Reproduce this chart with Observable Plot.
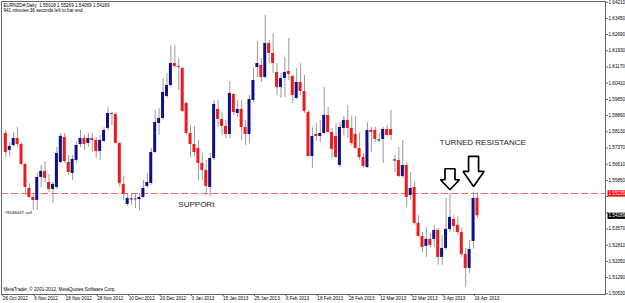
<!DOCTYPE html>
<html><head><meta charset="utf-8">
<script src="https://cdn.jsdelivr.net/npm/d3@7"></script>
<script src="https://cdn.jsdelivr.net/npm/@observablehq/plot@0.6"></script>
<style>html,body{margin:0;padding:0;background:#fff}svg{display:block}</style>
</head><body><div id="chart"></div>
<script>
// ---- data (EURNZD daily) ----
const opens = [1.58052,1.57255,1.57490,1.57818,1.57536,1.56598,1.55473,1.55051,1.54910,1.55989,1.56270,1.55754,1.55426,1.55520,1.56692,1.57865,1.56692,1.56176,1.56786,1.57536,1.57818,1.57583,1.57818,1.57724,1.57208,1.57677,1.58287,1.58990,1.58943,1.57583,1.55660,1.54722,1.54934,1.54957,1.54957,1.55051,1.55567,1.55707,1.57161,1.58521,1.58756,1.59788,1.60304,1.61335,1.61195,1.61101,1.59459,1.58052,1.57536,1.57349,1.56645,1.56317,1.55520,1.56880,1.59178,1.58709,1.58381,1.58005,1.59881,1.58990,1.59178,1.58334,1.58005,1.59600,1.61148,1.61242,1.60679,1.62273,1.61804,1.60913,1.60210,1.60632,1.60960,1.60726,1.59694,1.60444,1.60022,1.59037,1.56974,1.58005,1.57912,1.58052,1.58897,1.58099,1.57912,1.56552,1.58287,1.58662,1.58287,1.58005,1.57349,1.56927,1.56458,1.58193,1.58193,1.57700,1.57771,1.58240,1.58240,1.56763,1.56786,1.56036,1.56552,1.55145,1.55520,1.53831,1.53222,1.52753,1.53081,1.53081,1.53503,1.52237,1.52659,1.53550,1.54019,1.53738,1.53409,1.52377,1.51721,1.52987,1.55018];
const highs = [1.58193,1.57630,1.58099,1.58334,1.57630,1.56645,1.55707,1.55238,1.56176,1.56552,1.56739,1.56129,1.55754,1.57396,1.58052,1.58052,1.57021,1.57021,1.57630,1.58193,1.57959,1.58052,1.58052,1.57865,1.57959,1.58334,1.59272,1.59037,1.59037,1.57630,1.56036,1.55238,1.55238,1.55238,1.55238,1.55848,1.56176,1.57349,1.59131,1.59225,1.60632,1.60866,1.62180,1.62180,1.61570,1.61148,1.59506,1.58428,1.58381,1.57724,1.57114,1.56786,1.57114,1.59600,1.59600,1.59037,1.58662,1.60491,1.59928,1.59600,1.59600,1.58662,1.59835,1.61101,1.62367,1.61570,1.63587,1.62414,1.62742,1.61335,1.60866,1.61617,1.62508,1.60772,1.61101,1.61335,1.60772,1.59131,1.58334,1.58521,1.58662,1.60210,1.59272,1.58287,1.58521,1.58568,1.58850,1.59366,1.58850,1.58850,1.58052,1.57114,1.58568,1.58334,1.58334,1.58052,1.58334,1.58428,1.59131,1.57021,1.57396,1.57724,1.56692,1.56223,1.55754,1.54207,1.53409,1.53644,1.53362,1.53738,1.53597,1.53269,1.55004,1.55238,1.54207,1.54113,1.53597,1.52659,1.53034,1.55285,1.55269];
const lows = [1.56927,1.56927,1.57396,1.57396,1.56552,1.55145,1.55004,1.54441,1.54441,1.55520,1.55754,1.55285,1.54769,1.55426,1.56645,1.56645,1.56083,1.55848,1.56645,1.57396,1.57255,1.57396,1.57161,1.56880,1.56786,1.57630,1.58193,1.58428,1.57583,1.55520,1.54910,1.54629,1.54676,1.54535,1.54441,1.55004,1.55473,1.55614,1.57114,1.57959,1.58662,1.59694,1.60210,1.61101,1.60069,1.59037,1.57959,1.56927,1.56974,1.55848,1.55848,1.55145,1.55098,1.56786,1.58334,1.57959,1.57818,1.57818,1.58897,1.58803,1.57724,1.57490,1.57583,1.59506,1.60679,1.60444,1.60632,1.61335,1.60866,1.59835,1.59694,1.59741,1.60538,1.59459,1.59647,1.59835,1.58990,1.56927,1.56411,1.57677,1.57630,1.58005,1.58052,1.56880,1.56880,1.56458,1.57959,1.57818,1.57490,1.57302,1.56786,1.56458,1.56411,1.57161,1.57630,1.57630,1.56645,1.57865,1.57724,1.56223,1.55989,1.55942,1.54582,1.54910,1.53738,1.53175,1.52471,1.52237,1.52659,1.52706,1.51862,1.51862,1.52565,1.53409,1.53409,1.53269,1.52237,1.50830,1.51486,1.52612,1.54069];
const closes = [1.57161,1.57443,1.57818,1.57536,1.56598,1.55520,1.55051,1.54910,1.55989,1.56270,1.55942,1.55426,1.55660,1.57114,1.57912,1.56739,1.56223,1.56833,1.57490,1.57818,1.57536,1.57818,1.57724,1.57208,1.57724,1.58193,1.58990,1.58943,1.57583,1.55707,1.55191,1.55004,1.54957,1.54934,1.55051,1.55473,1.55754,1.57161,1.58568,1.58756,1.59975,1.60304,1.61335,1.61195,1.61148,1.59084,1.58052,1.57536,1.57161,1.56645,1.56317,1.55567,1.56880,1.59412,1.58709,1.58381,1.58005,1.59928,1.59037,1.59178,1.58334,1.58005,1.59647,1.60538,1.61335,1.60679,1.62273,1.61804,1.61335,1.60210,1.60632,1.60913,1.60819,1.59835,1.60444,1.60022,1.59084,1.56974,1.57912,1.57912,1.58052,1.58897,1.58099,1.57302,1.56927,1.58334,1.58662,1.58287,1.57583,1.57349,1.56927,1.56505,1.58193,1.58099,1.57771,1.57724,1.58240,1.57959,1.57959,1.56786,1.56036,1.56552,1.55051,1.55473,1.53831,1.53222,1.52706,1.53081,1.52800,1.53503,1.52237,1.52659,1.53550,1.54113,1.53691,1.53409,1.52377,1.51721,1.52612,1.55004,1.54189];

const dateTickIdx = [0,8,16,24,32,40,48,56,64,72,80,88,96,104,112,120];
const dateLabels = ["26 Oct 2012","6 Nov 2012","16 Nov 2012","28 Nov 2012","10 Dec 2012","20 Dec 2012","3 Jan 2013","15 Jan 2013","25 Jan 2013","6 Feb 2013","18 Feb 2013","28 Feb 2013","12 Mar 2013","22 Mar 2013","3 Apr 2013","16 Apr 2013"];
const priceTicks = [1.50530,1.51290,1.52050,1.52810,1.53570,1.54330,1.55090,1.55850,1.56610,1.57370,1.58130,1.58890,1.59650,1.60410,1.61170,1.61930,1.62690,1.63450,1.64210];

const orderPrice = 1.55235;
const orderLabel = "#9148447 sell";
const lastPrice = 1.54189;
const header = ["EURNZD#,Daily  1.55018 1.55269 1.54069 1.54189", "941 minutes 36 seconds left to bar end"];
const copyright = "MetaTrader, \u00a9 2001-2012, MetaQuotes Software Corp.";
const noteText = ["SUPPORt", "TURNED RESISTANCE"];
const noteIdx = [44.9, 111.4];
const notePrice = [1.5472, 1.5764];
const arrowIdx = [114, 120];
const arrowTip = [1.55412, 1.55567];

// ---- layout ----
const W = 625, H = 303;
const xDom = [1, 121], xRange = [5.3, 477];
const yDom = [1.50530, 1.64210], yRange = [293.3, 1.7];
const kx = (xRange[1] - xRange[0]) / (xDom[1] - xDom[0]);   // px per bar
const ky = (yRange[0] - yRange[1]) / (yDom[1] - yDom[0]);   // px per price unit
const fmt = d3.format(".5f");

const candles = opens.map((o, k) => {
  const c = closes[k];
  const lo = Math.min(o, c), hi = Math.max(o, c);
  return {i: k + 1, open: o, high: highs[k], low: lows[k], close: c,
          up: c >= o, b1: lo, b2: Math.max(hi, lo + 1 / ky)};
});

// tick labels hidden behind the price boxes (as in the terminal)
const covered = p => Math.abs(p - orderPrice) * ky < 6 || Math.abs(p - lastPrice) * ky < 6;

// hollow arrow outlines (shape in px, converted to data units)
const shapes = [{L: 21, hl: 10, hw: 9.5, sw: 5}, {L: 30, hl: 15, hw: 10.5, sw: 5}];
const arrowPts = [];
arrowIdx.forEach((ai, n) => {
  const s = shapes[n];
  const pts = [[0,0],[s.hw,s.hl],[s.sw,s.hl],[s.sw,s.L],[-s.sw,s.L],[-s.sw,s.hl],[-s.hw,s.hl]];
  pts.forEach(([dx, dy]) => arrowPts.push({id: n, x: ai + dx / kx, y: arrowTip[n] + dy / ky}));
});

const notes = noteText.map((t, k) => ({t, i: noteIdx[k], p: notePrice[k]}));

const plot = Plot.plot({
  width: W, height: H,
  marginLeft: 1, marginRight: 20, marginTop: 1, marginBottom: 9,
  style: {fontFamily: "Liberation Sans, Arial, sans-serif", fontSize: "4.6px", background: "#fff", color: "#000"},
  x: {domain: xDom, range: xRange},
  y: {domain: yDom, range: yRange},
  marks: [
    Plot.ruleY([orderPrice], {stroke: "#ee6a6a", strokeDasharray: "7,3", strokeWidth: 1}),
    Plot.ruleX(candles, {x: "i", y1: "low", y2: "high", stroke: "#9a9a9a", strokeWidth: 1}),
    Plot.rect(candles, {x1: d => d.i - 1.5 / kx, x2: d => d.i + 1.5 / kx, y1: "b1", y2: "b2",
      fill: d => d.up ? "#10108a" : "#f01a1a"}),
    Plot.line(arrowPts, {x: "x", y: "y", z: "id", curve: "linear-closed", fill: "white", stroke: "#000", strokeWidth: 1.7, strokeLinejoin: "miter"}),
    Plot.text(notes, {x: "i", y: "p", text: "t", textAnchor: "start", fontSize: 8, fill: "#222"}),
    Plot.text([header.join("\n")], {frameAnchor: "top-left", dx: 2, dy: 1.5, lineHeight: 1.1, textAnchor: "start", fontSize: 4.6}),
    Plot.text([copyright], {frameAnchor: "bottom-left", dx: 2, dy: -3.5, textAnchor: "start", fontSize: 4.6}),
    Plot.text([orderPrice], {y: d => d, text: () => orderLabel, frameAnchor: "left", dx: 3, dy: 19.5, textAnchor: "start", fontSize: 4.4}),
    Plot.frame({stroke: "#666"}),
    Plot.axisY(priceTicks, {anchor: "right", tickSize: 2, tickPadding: 1, tickFormat: d => covered(d) ? "" : fmt(d), fontSize: 4.6, stroke: "#666"}),
    Plot.axisX(dateTickIdx, {anchor: "bottom", tickSize: 2, tickPadding: 0.5, tickFormat: d => dateLabels[dateTickIdx.indexOf(d)], textAnchor: "start", dx: 1, fontSize: 4.6, stroke: "#666"}),
    Plot.text([orderPrice], {y: d => d, text: d => fmt(d), frameAnchor: "right", dx: 3, textAnchor: "start", fill: "#fff", fontSize: 4.6}),
    Plot.text([lastPrice], {y: d => d, text: d => fmt(d), frameAnchor: "right", dx: 3, textAnchor: "start", fill: "#fff", fontSize: 4.6})
  ]
});
document.getElementById("chart").appendChild(plot);

// background boxes for the price labels on the right axis
const boxes = [[fmt(orderPrice), "#f00000"], [fmt(lastPrice), "#000"]];
plot.querySelectorAll("text").forEach(t => {
  const b = boxes.find(([s]) => t.textContent === s && t.getAttribute("fill") === "#fff")
        || boxes.find(([s]) => t.textContent === s && t.closest("g") && t.closest("g").getAttribute("fill") === "#fff");
  if (!b) return;
  const bb = t.getBBox();
  const r = document.createElementNS("http://www.w3.org/2000/svg", "rect");
  r.setAttribute("x", bb.x - 1);
  r.setAttribute("y", bb.y - 0.6);
  r.setAttribute("width", W);
  r.setAttribute("height", bb.height + 1.2);
  r.setAttribute("fill", b[1]);
  if (t.getAttribute("transform")) r.setAttribute("transform", t.getAttribute("transform"));
  t.parentNode.insertBefore(r, t);
});
</script>
</body></html>
